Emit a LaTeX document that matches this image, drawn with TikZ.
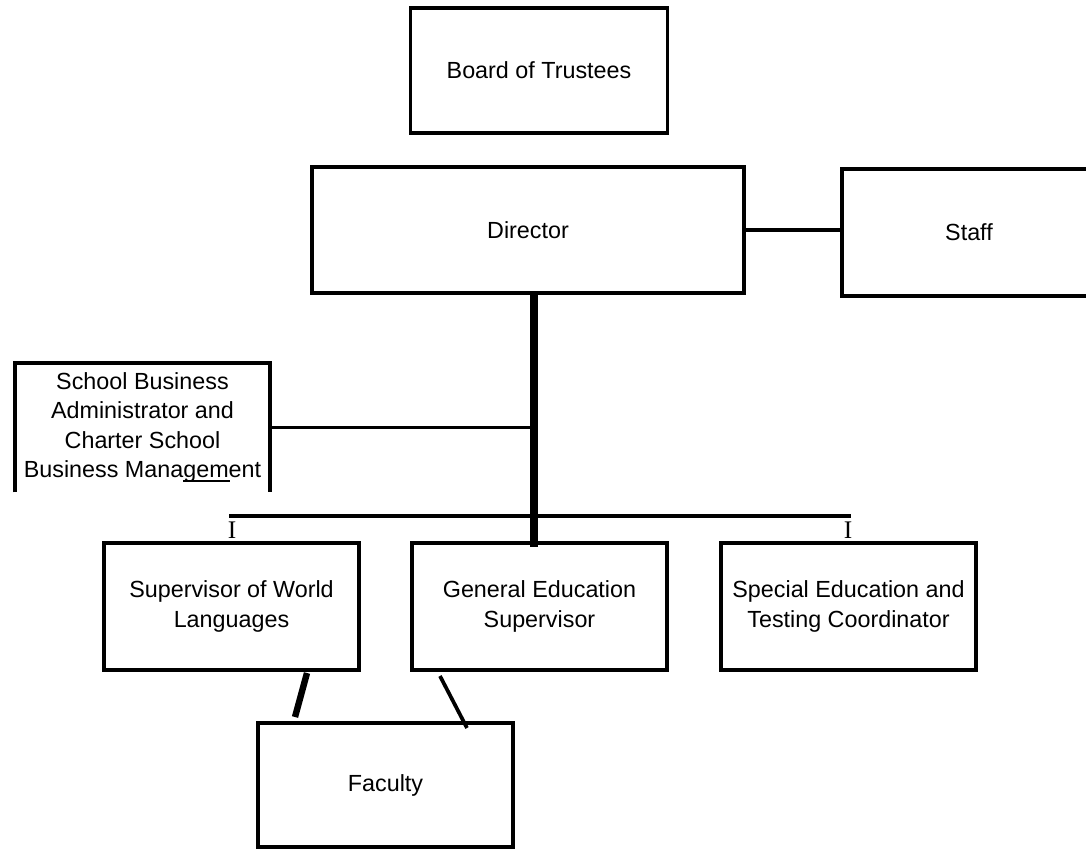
\documentclass[tikz,border=0pt]{standalone}
\usepackage{fontspec}
\setmainfont{Liberation Sans}
\newfontfamily\serifI{Liberation Serif}
\begin{document}
\begin{tikzpicture}[x=0.75pt,y=-0.75pt,
  txt/.style={font=\fontsize{17.5pt}{22pt}\selectfont, align=center, inner sep=0pt},
  orgbox/.style={txt, draw, line width=2.8pt, minimum width=#1},
  orgbox/.default=191.25pt,
  openbox/.style={txt, minimum width=#1},
  thinln/.style={line width=2.8pt},
  tickmark/.style={font=\serifI\fontsize{19pt}{19pt}\selectfont, inner sep=0pt}
]
\useasboundingbox[fill=white] (0,0) rectangle (1086,849);

% boxes
\node[orgbox=192.75pt, minimum height=93.75pt] (board) at (539,70.5) {Board of Trustees};
\node[orgbox=324pt, minimum height=94.5pt] (dir) at (528,230) {Director};
\node[openbox=190.5pt, minimum height=95.25pt] (stf) at (969,232.5) {Staff};
\node[openbox=191.25pt, minimum height=96.75pt] (sba) at (142.5,427.5)
  {School Business\\Administrator and\\Charter School\\Business Management};
\node[orgbox, minimum height=95.25pt] (swl) at (231.5,606.5) {Supervisor of World\\Languages};
\node[orgbox, minimum height=95.25pt] (gen) at (539.5,606.5) {General Education\\Supervisor};
\node[orgbox, minimum height=95.25pt] (sped) at (848.5,606.5) {Special Education and\\Testing Coordinator};
\node[orgbox, minimum height=93pt] (fac) at (385.5,785) {Faculty};

% open boxes
\draw[line width=2.8pt] (stf.north east) -- (stf.north west) -- (stf.south west) -- (stf.south east);
\draw[line width=2.8pt] (sba.south west) -- (sba.north west) -- (sba.north east) -- (sba.south east);
\draw[line width=1.9pt] (183,481) -- (230,481);

% named points
\coordinate (trunkTop) at (534,293);
\coordinate (trunkBot) at (534,547);
\coordinate (busL) at (229,516);
\coordinate (busR) at (851,516);
\coordinate (fl1) at (307,673);
\coordinate (fl2) at (295,717);
\coordinate (fr1) at (440,676);
\coordinate (fr2) at (467,728);

% connectors
\draw[thinln] (dir.east) -- (dir.east -| stf.west);
\draw[line width=6pt] (trunkTop) -- (trunkBot);
\draw[thinln] (sba.east) -- (sba.east -| trunkTop);
\draw[line width=3.2pt] (busL) -- (busR);
\draw[line width=4.8pt] (fl1) -- (fl2);
\draw[thinln] (fr1) -- (fr2);

% marks
\node[tickmark] (markL) at (232,530) {I};
\node[tickmark] (markR) at (848,530) {I};
\end{tikzpicture}
\end{document}
